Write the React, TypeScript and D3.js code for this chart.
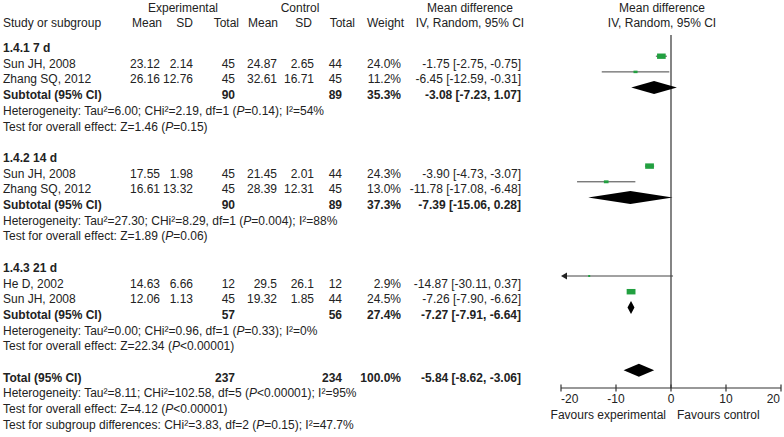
import React from "react";
import * as d3 from "d3";

const groupLabels = ["1.4.1 7 d", "1.4.2 14 d", "1.4.3 21 d"];
const studyNames = ["Sun JH, 2008", "Zhang SQ, 2012", "Sun JH, 2008", "Zhang SQ, 2012", "He D, 2002", "Sun JH, 2008"];
const studyGroup = [0, 0, 1, 1, 2, 2];
const expMean = [23.12, 26.16, 17.55, 16.61, 14.63, 12.06];
const expSD = [2.14, 12.76, 1.98, 13.32, 6.66, 1.13];
const expN = [45, 45, 45, 45, 12, 45];
const ctlMean = [24.87, 32.61, 21.45, 28.39, 29.5, 19.32];
const ctlSD = [2.65, 16.71, 2.01, 12.31, 26.1, 1.85];
const ctlN = [44, 45, 44, 45, 12, 44];
const weights = [24.0, 11.2, 24.3, 13.0, 2.9, 24.5];
const md = [-1.75, -6.45, -3.9, -11.78, -14.87, -7.26];
const mdLo = [-2.75, -12.59, -4.73, -17.08, -30.11, -7.9];
const mdHi = [-0.75, -0.31, -3.07, -6.48, 0.37, -6.62];

const subExpN = [90, 90, 57];
const subCtlN = [89, 89, 56];
const subWeight = [35.3, 37.3, 27.4];
const subMd = [-3.08, -7.39, -7.27];
const subLo = [-7.23, -15.06, -7.91];
const subHi = [1.07, 0.28, -6.64];
const hetTau2 = ["6.00", "27.30", "0.00"];
const hetChi2 = ["2.19", "8.29", "0.96"];
const hetDf = [1, 1, 1];
const hetP = ["=0.14", "=0.004", "=0.33"];
const hetI2 = ["54%", "88%", "0%"];
const zVal = ["1.46", "1.89", "22.34"];
const zP = ["=0.15", "=0.06", "<0.00001"];

const totExpN = 237;
const totCtlN = 234;
const totWeight = 100.0;
const totMd = -5.84;
const totLo = -8.62;
const totHi = -3.06;
const totTau2 = "8.11";
const totChi2 = "102.58";
const totDf = 5;
const totP = "<0.00001";
const totI2 = "95%";
const totZ = "4.12";
const totZP = "<0.00001";
const sgChi2 = "3.83";
const sgDf = 2;
const sgP = "=0.15";
const sgI2 = "47.7%";

const axisTicks = [-20, -10, 0, 10, 20];

const FONT = "'Liberation Sans', Arial, Helvetica, sans-serif";
const FS = 12;
const TXT = "#222";
const GREEN = "#22a040";

const fmtCI = (m: number, l: number, h: number) => `${m.toFixed(2)} [${l.toFixed(2)}, ${h.toFixed(2)}]`;

export default function App() {
  const x = d3.scaleLinear().domain([-20, 20]).range([561, 781]);
  const row = d3.scaleLinear().domain([0, 1]).range([48, 48 + 15.7]);
  const plotOffset = -7.5;
  const sqW = d3.scaleLinear().domain([0, 25]).range([0, 9]);

  type Line = { kind: string; idx: number; r: number };
  const lines: Line[] = [];
  let r = 0;
  groupLabels.forEach((_, g) => {
    lines.push({ kind: "group", idx: g, r: r++ });
    studyNames.forEach((_, s) => {
      if (studyGroup[s] === g) lines.push({ kind: "study", idx: s, r: r++ });
    });
    lines.push({ kind: "sub", idx: g, r: r++ });
    lines.push({ kind: "het", idx: g, r: r++ });
    lines.push({ kind: "z", idx: g, r: r++ });
    r++;
  });
  lines.push({ kind: "total", idx: 0, r: r++ });
  lines.push({ kind: "thet", idx: 0, r: r++ });
  lines.push({ kind: "tz", idx: 0, r: r++ });
  lines.push({ kind: "sg", idx: 0, r: r++ });

  const txt = (key: string, xx: number, y: number, s: React.ReactNode, anchor = "end", bold = false) => (
    <text key={key} x={xx} y={y} textAnchor={anchor} fontWeight={bold ? "bold" : "normal"}>
      {s}
    </text>
  );

  const italicP = (v: string) => (
    <>
      (<tspan fontStyle="italic">P</tspan>
      {v})
    </>
  );

  const diamond = (key: string, m: number, l: number, h: number, yc: number) => {
    const hh = 6.5;
    const pts = [
      [x(l), yc],
      [x(m), yc - hh],
      [x(h), yc],
      [x(m), yc + hh],
    ];
    return <polygon key={key} points={pts.map((p) => p.join(",")).join(" ")} fill="#000" />;
  };

  const els: React.ReactNode[] = [];
  const marks: React.ReactNode[] = [];
  lines.forEach((ln, i) => {
    const yc = row(ln.r);
    const yb = yc + 4;
    const k = "l" + i;
    if (ln.kind === "group") {
      els.push(txt(k, 3, yb, groupLabels[ln.idx], "start", true));
    } else if (ln.kind === "study") {
      const s = ln.idx;
      els.push(txt(k + "n", 3, yb, studyNames[s], "start"));
      els.push(txt(k + "a", 160, yb, String(expMean[s])));
      els.push(txt(k + "b", 193, yb, String(expSD[s])));
      els.push(txt(k + "c", 235, yb, String(expN[s])));
      els.push(txt(k + "d", 277, yb, String(ctlMean[s])));
      els.push(txt(k + "e", 314, yb, String(ctlSD[s])));
      els.push(txt(k + "f", 342, yb, String(ctlN[s])));
      els.push(txt(k + "g", 401, yb, weights[s].toFixed(1) + "%"));
      els.push(txt(k + "h", 521, yb, fmtCI(md[s], mdLo[s], mdHi[s])));
      const py = yc + plotOffset;
      const lo = Math.max(mdLo[s], -20);
      const x1 = x(lo);
      const x2 = x(Math.min(mdHi[s], 20));
      if (mdLo[s] < -20) {
        marks.push(<line key={k + "ci"} x1={x1 + 2} x2={x2} y1={py} y2={py} stroke="#444" strokeWidth={1} />);
        marks.push(
          <polygon key={k + "ar"} points={`${x1},${py} ${x1 + 6},${py - 3.5} ${x1 + 6},${py + 3.5}`} fill="#222" />
        );
      } else {
        marks.push(<line key={k + "ci"} x1={x1} x2={x2} y1={py} y2={py} stroke="#444" strokeWidth={1} />);
      }
      const w = Math.max(2, sqW(weights[s]));
      const h = Math.max(2, w * 0.62);
      marks.push(<rect key={k + "sq"} x={x(md[s]) - w / 2} y={py - h / 2} width={w} height={h} fill={GREEN} />);
    } else if (ln.kind === "sub") {
      const g = ln.idx;
      els.push(txt(k + "n", 3, yb, "Subtotal (95% CI)", "start", true));
      els.push(txt(k + "c", 235, yb, String(subExpN[g]), "end", true));
      els.push(txt(k + "f", 342, yb, String(subCtlN[g]), "end", true));
      els.push(txt(k + "g", 401, yb, subWeight[g].toFixed(1) + "%", "end", true));
      els.push(txt(k + "h", 521, yb, fmtCI(subMd[g], subLo[g], subHi[g]), "end", true));
      marks.push(diamond(k + "dm", subMd[g], subLo[g], subHi[g], yc + plotOffset));
    } else if (ln.kind === "het") {
      const g = ln.idx;
      els.push(
        txt(
          k,
          3,
          yb,
          <>
            {`Heterogeneity: Tau²=${hetTau2[g]}; CHi²=${hetChi2[g]}, df=${hetDf[g]} `}
            {italicP(hetP[g])}
            {`; I²=${hetI2[g]}`}
          </>,
          "start"
        )
      );
    } else if (ln.kind === "z") {
      const g = ln.idx;
      els.push(
        txt(
          k,
          3,
          yb,
          <>
            {`Test for overall effect: Z=${zVal[g]} `}
            {italicP(zP[g])}
          </>,
          "start"
        )
      );
    } else if (ln.kind === "total") {
      els.push(txt(k + "n", 3, yb, "Total (95% CI)", "start", true));
      els.push(txt(k + "c", 235, yb, String(totExpN), "end", true));
      els.push(txt(k + "f", 342, yb, String(totCtlN), "end", true));
      els.push(txt(k + "g", 401, yb, totWeight.toFixed(1) + "%", "end", true));
      els.push(txt(k + "h", 521, yb, fmtCI(totMd, totLo, totHi), "end", true));
      marks.push(diamond(k + "dm", totMd, totLo, totHi, yc + plotOffset));
    } else if (ln.kind === "thet") {
      els.push(
        txt(
          k,
          3,
          yb,
          <>
            {`Heterogeneity: Tau²=${totTau2}; CHi²=${totChi2}, df=${totDf} `}
            {italicP(totP)}
            {`; I²=${totI2}`}
          </>,
          "start"
        )
      );
    } else if (ln.kind === "tz") {
      els.push(
        txt(
          k,
          3,
          yb,
          <>
            {`Test for overall effect: Z=${totZ} `}
            {italicP(totZP)}
          </>,
          "start"
        )
      );
    } else if (ln.kind === "sg") {
      els.push(
        txt(
          k,
          3,
          yb,
          <>
            {`Test for subgroup differences: CHi²=${sgChi2}, df=${sgDf} `}
            {italicP(sgP)}
            {`; I²=${sgI2}`}
          </>,
          "start"
        )
      );
    }
  });

  const axisY = 388;
  const n = axisTicks.length;

  return (
    <svg
      width={784}
      height={437}
      style={{ position: "absolute", left: 0, top: 0, background: "#fff" }}
      fontFamily={FONT}
      fontSize={FS}
      fill={TXT}
    >
      <rect x={0} y={0} width={784} height={437} fill="#fff" />
      {/* headers */}
      <text x={183} y={12} textAnchor="middle">Experimental</text>
      <text x={300} y={12} textAnchor="middle">Control</text>
      <text x={470} y={12} textAnchor="middle">Mean difference</text>
      <text x={662} y={12} textAnchor="middle">Mean difference</text>
      <text x={3} y={26.5}>Study or subgroup</text>
      <text x={162} y={26.5} textAnchor="end">Mean</text>
      <text x={193} y={26.5} textAnchor="end">SD</text>
      <text x={239} y={26.5} textAnchor="end">Total</text>
      <text x={278} y={26.5} textAnchor="end">Mean</text>
      <text x={312} y={26.5} textAnchor="end">SD</text>
      <text x={355} y={26.5} textAnchor="end">Total</text>
      <text x={367} y={26.5}>Weight</text>
      <text x={470} y={26.5} textAnchor="middle">IV, Random, 95% CI</text>
      <text x={662} y={26.5} textAnchor="middle">IV, Random, 95% CI</text>
      {els}
      {/* plot */}
      <line x1={x(0)} x2={x(0)} y1={35} y2={axisY} stroke="#333" strokeWidth={1.2} />
      {marks}
      <line x1={x(-20)} x2={x(20)} y1={axisY} y2={axisY} stroke="#333" strokeWidth={1.2} />
      {axisTicks.map((t, i) => (
        <g key={"t" + t}>
          <line x1={x(t)} x2={x(t)} y1={axisY - 3.5} y2={axisY + 3.5} stroke="#333" strokeWidth={1.2} />
          <text
            x={i === 0 ? x(t) : i === n - 1 ? x(t) - 1 : x(t)}
            y={axisY + 15}
            textAnchor={i === 0 ? "start" : i === n - 1 ? "end" : "middle"}
          >
            {String(t)}
          </text>
        </g>
      ))}
      <text x={x(0) - 5} y={axisY + 31} textAnchor="end">Favours experimental</text>
      <text x={x(0) + 6} y={axisY + 31} textAnchor="start">Favours control</text>
    </svg>
  );
}
